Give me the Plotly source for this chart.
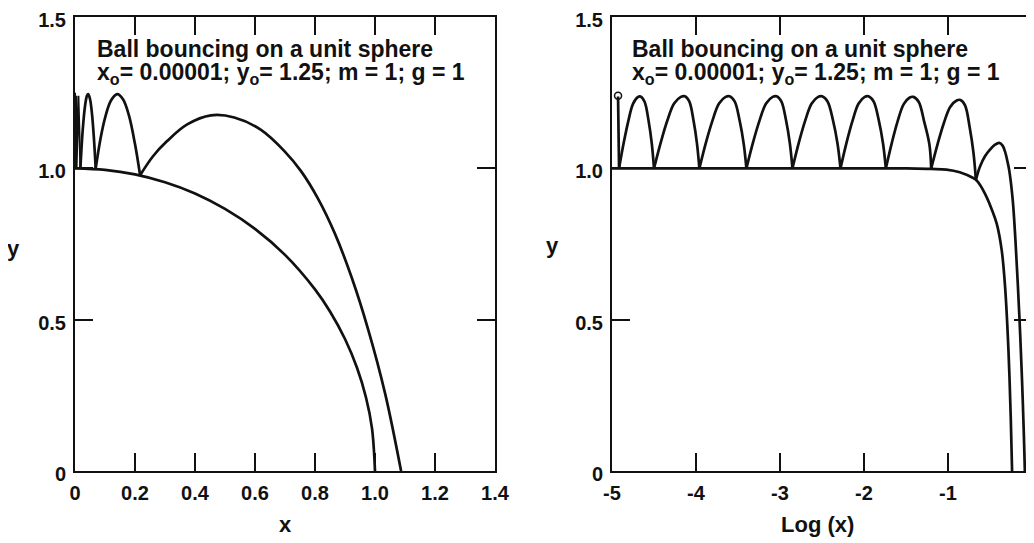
import plotly.graph_objects as go

# ---------------- Left panel (linear x) ----------------
xticks_left = [0, 0.2, 0.4, 0.6, 0.8, 1.0, 1.2, 1.4]
xticktext_left = ["0", "0.2", "0.4", "0.6", "0.8", "1.0", "1.2", "1.4"]
yticks = [0, 0.5, 1.0, 1.5]
yticktext = ["0", "0.5", "1.0", "1.5"]

sphere_x = [0.0, 0.1, 0.2, 0.3, 0.4, 0.5, 0.6, 0.7, 0.8, 0.85, 0.9, 0.94, 0.97, 0.99, 1.0]
sphere_y = [1.0, 0.995, 0.980, 0.954, 0.917, 0.866, 0.800, 0.714, 0.600, 0.527, 0.436, 0.341, 0.243, 0.141, 0.0]

# dense early bounces near x = 0
dense_x = [0.00001, 0.000012, 0.000022, 0.000032, 0.000074, 0.00011, 0.00025, 0.0004,
           0.0009, 0.0014, 0.0032, 0.0052, 0.0113, 0.018]
dense_y = [1.25, 1.0, 1.24, 1.0, 1.24, 1.0, 1.24, 1.0, 1.24, 1.0, 1.24, 1.0, 1.24, 1.0]

# later arcs (segments separated by None)
arcs_x = [0.018, 0.026, 0.034, 0.040, 0.044, 0.050, 0.057, 0.063, 0.069, None,
          0.069, 0.085, 0.100, 0.120, 0.141, 0.160, 0.180, 0.200, 0.217, None,
          0.217, 0.260, 0.307, 0.374, 0.453, 0.531, 0.620, 0.698, 0.754, 0.810, 0.866,
          0.922, 0.978, 1.034, 1.087]
arcs_y = [1.0, 1.13, 1.21, 1.24, 1.245, 1.229, 1.176, 1.10, 1.0, None,
          1.0, 1.098, 1.166, 1.224, 1.245, 1.228, 1.174, 1.08, 0.977, None,
          0.977, 1.040, 1.090, 1.145, 1.175, 1.168, 1.127, 1.057, 0.990, 0.900, 0.785,
          0.640, 0.465, 0.255, 0.0]

# ---------------- Right panel (log x) ----------------
xticks_right = [-5, -4, -3, -2, -1, 0]
xticktext_right = ["-5", "-4", "-3", "-2", "-1", "0"]

sphere_logx = [-5.0, -1.5, -1.2, -1.02, -0.86, -0.70, -0.668, -0.62, -0.54, -0.48, -0.42,
               -0.36, -0.32, -0.28, -0.253, -0.237]
sphere_logy = [1.0, 1.0, 0.998, 0.996, 0.987, 0.968, 0.962, 0.946, 0.905, 0.865, 0.817,
               0.728, 0.607, 0.397, 0.177, 0.0]

traj_logx = [
    -4.928, -4.916, None,
    -4.916, -4.860, -4.806, -4.750, -4.693, -4.660, -4.612, -4.564, -4.526, -4.500, None,
    -4.500, -4.419, -4.342, -4.261, -4.180, -4.132, -4.080, -4.029, -3.988, -3.960, None,
    -3.960, -3.881, -3.805, -3.726, -3.647, -3.600, -3.540, -3.480, -3.432, -3.400, None,
    -3.400, -3.321, -3.245, -3.166, -3.087, -3.040, -2.984, -2.927, -2.882, -2.852, None,
    -2.852, -2.775, -2.701, -2.623, -2.546, -2.500, -2.434, -2.368, -2.315, -2.280, None,
    -2.280, -2.207, -2.137, -2.064, -1.991, -1.948, -1.886, -1.823, -1.773, -1.740, None,
    -1.740, -1.668, -1.599, -1.527, -1.455, -1.412, -1.348, -1.285, -1.222, -1.200, None,
    -1.200, -1.123, -1.050, -0.974, -0.897, -0.852, -0.797, -0.742, -0.697, -0.668, None,
    -0.668, -0.620, -0.560, -0.500, -0.440, -0.390, -0.350, -0.321, -0.290, -0.269, -0.229,
    -0.197, -0.169, -0.141, -0.117, -0.097, -0.085,
]
traj_y = [
    1.237, 1.0, None,
    1.0, 1.085, 1.156, 1.213, 1.235, 1.237, 1.220, 1.156, 1.081, 1.0, None,
    1.0, 1.086, 1.157, 1.214, 1.236, 1.238, 1.221, 1.157, 1.081, 1.0, None,
    1.0, 1.086, 1.157, 1.214, 1.236, 1.238, 1.221, 1.157, 1.081, 1.0, None,
    1.0, 1.086, 1.157, 1.214, 1.236, 1.238, 1.221, 1.157, 1.081, 1.0, None,
    1.0, 1.086, 1.157, 1.214, 1.236, 1.238, 1.221, 1.157, 1.081, 1.0, None,
    1.0, 1.086, 1.157, 1.214, 1.236, 1.238, 1.221, 1.157, 1.081, 1.0, None,
    1.0, 1.085, 1.156, 1.212, 1.234, 1.236, 1.219, 1.156, 1.080, 1.0, None,
    1.0, 1.081, 1.149, 1.203, 1.224, 1.226, 1.208, 1.136, 1.052, 0.962, None,
    0.962, 1.005, 1.040, 1.062, 1.078, 1.084, 1.075, 1.055, 1.020, 0.990, 0.894,
    0.762, 0.618, 0.453, 0.287, 0.121, 0.0,
]

start_logx = [-4.928]
start_y = [1.24]

title_line1 = "Ball bouncing on a unit sphere"
title_line2 = "x<sub>o</sub>= 0.00001; y<sub>o</sub>= 1.25; m = 1; g = 1"

# ---------------- Figure ----------------
# The page has an 8px body margin, so the figure is drawn 8px smaller and
# all target page positions are shifted by that offset.
OFF = 8
W, H = 1034 - OFF, 543 - OFF
INK = "#111111"
FONT = "Liberation Sans, Arial, Helvetica, sans-serif"
LW = 2.7


def px_x(p):
    return (p - OFF) / W


def px_y(p):
    return (H - (p - OFF)) / H


fig = go.Figure()

fig.add_trace(go.Scatter(x=sphere_x, y=sphere_y, mode="lines",
                         line=dict(color=INK, width=LW, shape="spline"),
                         xaxis="x", yaxis="y", hoverinfo="skip"))
fig.add_trace(go.Scatter(x=dense_x, y=dense_y, mode="lines",
                         line=dict(color=INK, width=2.0),
                         xaxis="x", yaxis="y", hoverinfo="skip"))
fig.add_trace(go.Scatter(x=arcs_x, y=arcs_y, mode="lines", connectgaps=False,
                         line=dict(color=INK, width=LW, shape="spline"),
                         xaxis="x", yaxis="y", hoverinfo="skip"))

fig.add_trace(go.Scatter(x=sphere_logx, y=sphere_logy, mode="lines",
                         line=dict(color=INK, width=LW, shape="spline"),
                         xaxis="x2", yaxis="y2", hoverinfo="skip"))
fig.add_trace(go.Scatter(x=traj_logx, y=traj_y, mode="lines", connectgaps=False,
                         line=dict(color=INK, width=LW, shape="spline"),
                         xaxis="x2", yaxis="y2", hoverinfo="skip"))
fig.add_trace(go.Scatter(x=start_logx, y=start_y, mode="markers",
                         marker=dict(symbol="circle-open", size=7, color=INK,
                                     line=dict(width=1.5, color=INK)),
                         xaxis="x2", yaxis="y2", hoverinfo="skip"))

tickfont = dict(family=FONT, size=20, color=INK, weight="bold")
axis_common = dict(showline=True, linewidth=2, linecolor=INK, mirror="allticks",
                   ticks="inside", ticklen=18, tickwidth=1.5, tickcolor=INK,
                   showgrid=False, zeroline=False, automargin=False,
                   tickfont=tickfont, fixedrange=True, ticklabeloverflow="allow",
                   ticklabelstandoff=3)

ydom = [px_y(471), px_y(17)]

fig.update_layout(
    width=W, height=H,
    margin=dict(l=0, r=0, t=0, b=0),
    paper_bgcolor="white", plot_bgcolor="white",
    showlegend=False,
    xaxis=dict(domain=[px_x(75), px_x(495)], range=[0, 1.4], tickvals=xticks_left,
               ticktext=xticktext_left, anchor="y", **axis_common),
    yaxis=dict(domain=ydom, range=[0, 1.5], tickvals=yticks, ticktext=yticktext,
               anchor="x", ticklabelshift=3, **axis_common),
    xaxis2=dict(domain=[px_x(612), px_x(1032)], range=[-5, 0], tickvals=xticks_right,
                ticktext=xticktext_right, anchor="y2", **axis_common),
    yaxis2=dict(domain=ydom, range=[0, 1.5], tickvals=yticks, ticktext=yticktext,
                anchor="x2", ticklabelshift=3, **axis_common),
)

annfont = dict(family=FONT, size=23, color=INK, weight="bold")
titlefont = dict(family=FONT, size=22, color=INK, weight="bold")

annotations = [
    dict(text=title_line1, x=px_x(95), y=px_y(49), xanchor="left", yanchor="middle"),
    dict(text=title_line2, x=px_x(95), y=px_y(73), xanchor="left", yanchor="middle"),
    dict(text=title_line1, x=px_x(630), y=px_y(49), xanchor="left", yanchor="middle"),
    dict(text=title_line2, x=px_x(630), y=px_y(73), xanchor="left", yanchor="middle"),
]
for a in annotations:
    a.update(xref="paper", yref="paper", showarrow=False, font=annfont)

axis_titles = [
    dict(text="y", x=px_x(13), y=px_y(249)),
    dict(text="y", x=px_x(552), y=px_y(245)),
    dict(text="x", x=px_x(285), y=px_y(524)),
    dict(text="Log (x)", x=px_x(817), y=px_y(524)),
]
for a in axis_titles:
    a.update(xref="paper", yref="paper", showarrow=False, font=titlefont,
             xanchor="center", yanchor="middle")

fig.update_layout(annotations=annotations + axis_titles)

fig.write_html("out.html")
